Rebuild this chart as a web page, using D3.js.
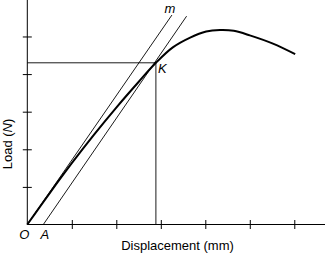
<!DOCTYPE html>
<html>
<head>
<meta charset="utf-8">
<script src="https://cdn.jsdelivr.net/npm/d3@7"></script>
<style>
  body { margin: 0; background: #fff; }
  svg { display: block; }
  text { font-family: "Liberation Sans", Arial, sans-serif; fill: #000; }
</style>
</head>
<body>
<svg id="chart" width="327" height="253"></svg>
<script>
// load-displacement curve (arbitrary units)
var curveX = [0, 0.5, 1.0, 1.5, 2.0, 2.5, 2.89, 3.27, 3.66, 4.02, 4.33, 4.64, 5.00, 5.52, 6.02];
var curveY = [0, 0.83, 1.63, 2.39, 3.11, 3.79, 4.30, 4.71, 4.97, 5.13, 5.17, 5.15, 5.03, 4.81, 4.53];

// straight lines: initial slope through O (m) and the offset line from A
var lineM = [[0, 0], [3.25, 5.57]];
var lineA = [[0.36, 0], [3.58, 5.54]];

var pointK = [2.89, 4.30];
var pointA = 0.36;

var xTicks = [1, 2, 3, 4, 5, 6];
var yTicks = [1, 2, 3, 4, 5];

var svg = d3.select("#chart");

var x = d3.scaleLinear().domain([0, 6.69]).range([27.3, 325]);
var y = d3.scaleLinear().domain([0, 5.97]).range([224.5, 0]);

var line = d3.line()
	.x(function(d) { return x(d[0]); })
	.y(function(d) { return y(d[1]); });

// axes with ticks crossing the line
var xAxis = d3.axisBottom(x).tickValues(xTicks).tickSize(9).tickFormat("").tickSizeOuter(0);
var yAxis = d3.axisLeft(y).tickValues(yTicks).tickSize(9).tickFormat("").tickSizeOuter(0);

svg.append("g")
	.attr("transform", "translate(0," + (y(0) - 4.5) + ")")
	.call(xAxis)
	.call(function(g) { g.select(".domain").remove(); });

svg.append("g")
	.attr("transform", "translate(" + (x(0) + 4.5) + ",0)")
	.call(yAxis)
	.call(function(g) { g.select(".domain").remove(); });

svg.selectAll(".tick line").attr("stroke", "#000").attr("stroke-width", 1);

svg.append("line")
	.attr("x1", x(0)).attr("x2", x(6.69))
	.attr("y1", y(0)).attr("y2", y(0))
	.attr("stroke", "#000").attr("stroke-width", 1);

svg.append("line")
	.attr("x1", x(0)).attr("x2", x(0))
	.attr("y1", y(0)).attr("y2", y(5.97))
	.attr("stroke", "#000").attr("stroke-width", 1);

// guides to K
svg.append("path")
	.attr("d", line([[0, pointK[1]], pointK, [pointK[0], 0]]))
	.attr("fill", "none")
	.attr("stroke", "#000")
	.attr("stroke-width", 0.9);

// m and offset line
[lineM, lineA].forEach(function(l) {
	svg.append("path")
		.attr("d", line(l))
		.attr("fill", "none")
		.attr("stroke", "#000")
		.attr("stroke-width", 0.9);
});

// main curve
var pts = curveX.map(function(v, i) { return [v, curveY[i]]; });
var smooth = d3.line()
	.x(function(d) { return x(d[0]); })
	.y(function(d) { return y(d[1]); })
	.curve(d3.curveCatmullRom.alpha(0.5));

svg.append("path")
	.attr("d", smooth(pts))
	.attr("fill", "none")
	.attr("stroke", "#000")
	.attr("stroke-width", 2);

// labels
svg.append("text")
	.attr("x", x(0) - 3).attr("y", 239)
	.attr("text-anchor", "middle")
	.style("font-size", "13px").style("font-style", "italic")
	.text("O");

svg.append("text")
	.attr("x", x(pointA) + 1.5).attr("y", 239)
	.attr("text-anchor", "middle")
	.style("font-size", "13px").style("font-style", "italic")
	.text("A");

svg.append("text")
	.attr("x", x(pointK[0]) + 2).attr("y", y(pointK[1]) + 9.8)
	.style("font-size", "13px").style("font-style", "italic")
	.text("K");

svg.append("text")
	.attr("x", x(lineM[1][0]) - 2).attr("y", 13)
	.attr("text-anchor", "middle")
	.style("font-size", "13px").style("font-style", "italic")
	.text("m");

svg.append("text")
	.attr("x", 177.5).attr("y", 250)
	.attr("text-anchor", "middle")
	.style("font-size", "13px")
	.text("Displacement (mm)");

var yl = svg.append("text")
	.attr("transform", "translate(11.5,144) rotate(-90)")
	.attr("text-anchor", "middle")
	.style("font-size", "13px");
yl.append("tspan").text("Load (");
yl.append("tspan").style("font-style", "italic").text("N");
yl.append("tspan").text(")");
</script>
</body>
</html>
